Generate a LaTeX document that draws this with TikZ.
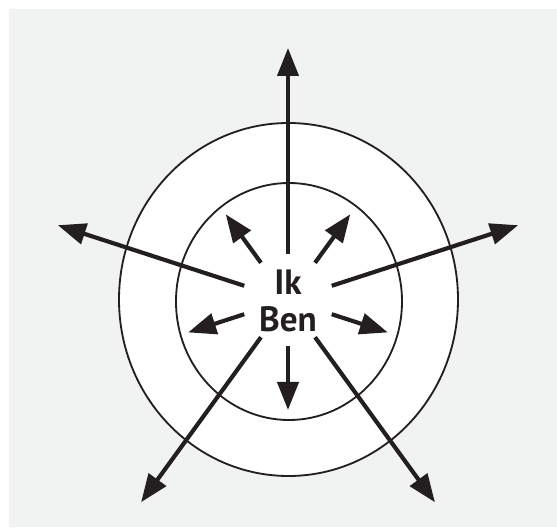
\documentclass[tikz,border=0pt]{standalone}
\usepackage{fontspec}
\setmainfont{PT Sans}
\usepackage{tikz}
\usetikzlibrary{arrows.meta,positioning}
\definecolor{Ink}{HTML}{231F20}
\definecolor{Panel}{HTML}{F1F2F2}

\begin{document}
\begin{tikzpicture}[x=0.03cm,y=0.03cm,
  ray/.style={Ink,line width=0.125cm,-{Triangle[length=0.84cm,width=0.63cm]}},
  ring/.style={Ink,line width=0.055cm,fill=white},
  word/.style={font=\fontsize{30}{36}\selectfont\bfseries,text=Ink,inner sep=0pt,anchor=base}]
  \useasboundingbox (0,0) rectangle (557,527);
  \fill[Panel] (9,0) rectangle (557,518);
  \coordinate (c) at (288,227);
  \draw[ring] (288.5,227.5) ellipse [x radius=169.5,y radius=176.5];
  \draw[ring] (289,225.5) ellipse [x radius=113,y radius=118.5];
  % long rays out of both rings
  \foreach \a/\r in {90/252,162/242,18/242,234/250,306/250} {
    \coordinate (ls\a) at ([shift={(\a:46)}]c);
    \coordinate (le\a) at ([shift={(\a:\r)}]c);
    \draw[ray] (ls\a) -- (le\a);
  }
  % short rays inside
  \foreach \a/\r in {126/106,54/106,198/105,342/105,270/110} {
    \coordinate (ss\a) at ([shift={(\a:46)}]c);
    \coordinate (se\a) at ([shift={(\a:\r)}]c);
    \draw[ray] (ss\a) -- (se\a);
  }
  \node[word] (ik) at (288,232) {Ik};
  \node[word,below=1.1cm of ik.base,anchor=base] (ben) {Ben};
\end{tikzpicture}
\end{document}
